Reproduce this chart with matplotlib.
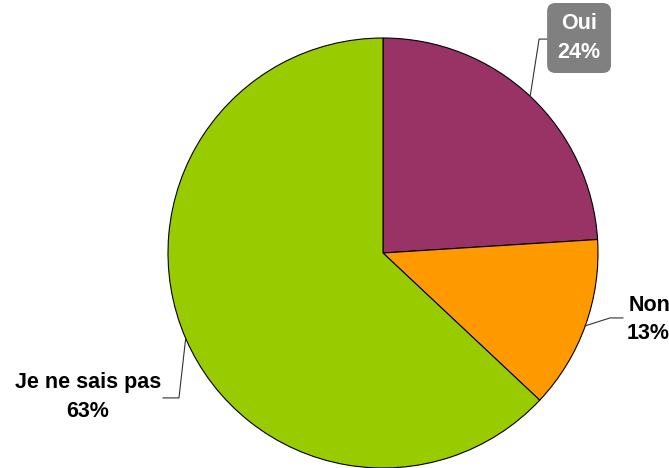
import matplotlib.pyplot as plt
import numpy as np

plt.rcParams['font.family'] = ['Liberation Sans', 'DejaVu Sans']

labels = ['Oui', 'Non', 'Je ne sais pas']
values = [24, 13, 63]
colors = ['#993366', '#FF9900', '#99CC00']

fig = plt.figure(figsize=(6.69, 4.68), dpi=100)
ax = fig.add_axes([168 / 669, 0.0, 430 / 669, 430 / 468])

wedges, _ = ax.pie(values, colors=colors, startangle=90, counterclock=False,
                   radius=1, wedgeprops=dict(edgecolor='black', linewidth=0.8))
ax.set_xlim(-1, 1)
ax.set_ylim(-1, 1)
ax.set_aspect('equal')
ax.axis('off')

# angle au milieu de chaque part
mids = [np.deg2rad((w.theta1 + w.theta2) / 2) for w in wedges]

def edge(a):
    return np.cos(a), np.sin(a)

fs = 15.5
ls = 1.45

# Oui : étiquette dans un cadre gris
x0, y0 = edge(mids[0])
ax.plot([x0, 0.726, 0.80], [y0, 0.995, 0.995], color='#333333', lw=0.8, clip_on=False)
ax.text(0.912, 1.0, f"{labels[0]}\n{values[0]}%", ha='center', va='center',
        fontsize=fs, fontweight='bold', color='white', linespacing=ls,
        bbox=dict(boxstyle='round,pad=0.45,rounding_size=0.35', fc='#808080', ec='#808080'),
        clip_on=False)

# Non
x1, y1 = edge(mids[1])
ax.plot([x1, 1.056, 1.116], [y1, -0.302, -0.302], color='#333333', lw=0.8, clip_on=False)
ax.text(1.335, -0.31, f"{labels[1]}\n{values[1]}%", ha='right', va='center',
        fontsize=fs, fontweight='bold', color='black', linespacing=ls, clip_on=False)

# Je ne sais pas
x2, y2 = edge(mids[2])
ax.plot([x2, -0.949, -1.023], [y2, -0.674, -0.674], color='#333333', lw=0.8, clip_on=False)
ax.text(-1.372, -0.67, f"{labels[2]}\n{values[2]}%", ha='center', va='center',
        fontsize=fs, fontweight='bold', color='black', linespacing=ls, clip_on=False)

fig.savefig('out.png', dpi=100)
